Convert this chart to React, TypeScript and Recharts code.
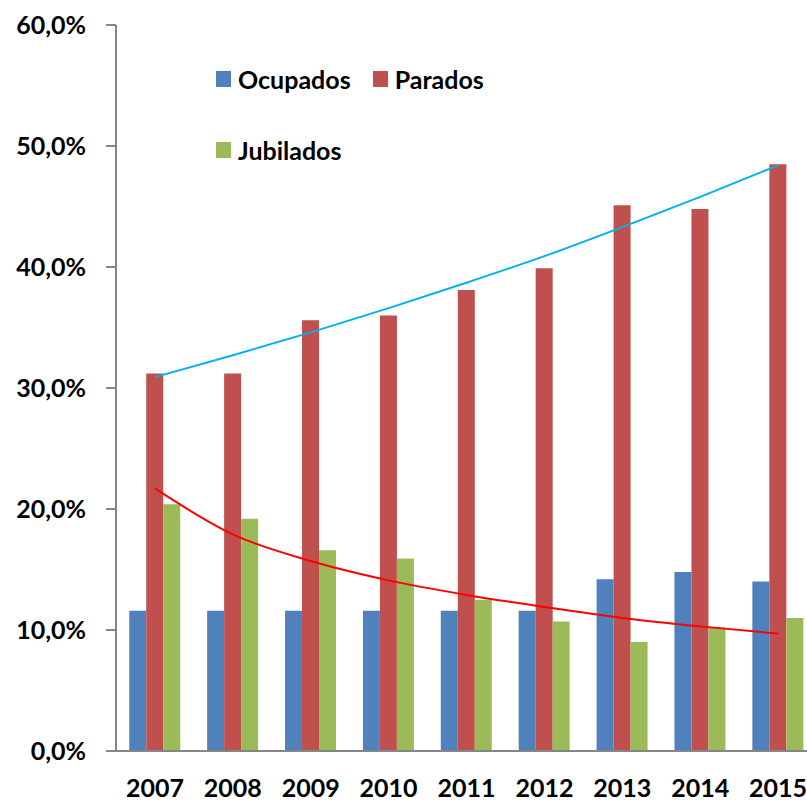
import { ComposedChart, Bar, Line, XAxis, YAxis, Legend } from 'recharts'

const years = ['2007', '2008', '2009', '2010', '2011', '2012', '2013', '2014', '2015']
const ocupados = [11.6, 11.6, 11.6, 11.6, 11.6, 11.6, 14.2, 14.8, 14.0]
const parados = [31.2, 31.2, 35.6, 36.0, 38.1, 39.9, 45.1, 44.8, 48.5]
const jubilados = [20.4, 19.2, 16.6, 15.9, 12.5, 10.7, 9.0, 10.2, 11.0]
// líneas de tendencia
const tendParados = [30.9, 32.7, 34.6, 36.6, 38.7, 40.9, 43.3, 45.8, 48.4]
const tendJubilados = [21.7, 17.9, 15.7, 14.1, 12.9, 11.9, 11.0, 10.3, 9.7]
const yTicks = [0, 10, 20, 30, 40, 50, 60]
const edgeTicks = [0, 1, 2, 3, 4, 5, 6, 7, 8, 9]

const data = years.map((year, i) => ({
	year,
	ocupados: ocupados[i],
	parados: parados[i],
	jubilados: jubilados[i],
	tendParados: tendParados[i],
	tendJubilados: tendJubilados[i],
}))

const FONT = 'Lato, "Open Sans", sans-serif'
const AXIS = '#868686'
const tickStyle = { fontSize: 25, fontWeight: 700, fill: '#000', fontFamily: FONT }

const fmt = (v: number) => v.toFixed(1).replace('.', ',') + '%'

const LegendItem = ({ color, name }: { color: string; name: string }) => (
	<div style={{ display: 'flex', alignItems: 'center', height: 30, marginRight: 22 }}>
		<span style={{ width: 15, height: 16, background: color, marginRight: 7 }} />
		<span>{name}</span>
	</div>
)

const renderLegend = () => (
	<div style={{ fontFamily: FONT, fontSize: 25, fontWeight: 700, color: '#000' }}>
		<div style={{ display: 'flex', marginBottom: 41 }}>
			<LegendItem color="#4F81BD" name="Ocupados" />
			<LegendItem color="#C0504D" name="Parados" />
		</div>
		<div style={{ display: 'flex' }}>
			<LegendItem color="#9BBB59" name="Jubilados" />
		</div>
	</div>
)

export default function App() {
	return (
		<div style={{ position: 'fixed', left: 0, top: 0, width: 807, height: 801, overflow: 'hidden', background: '#fff' }}>
			<ComposedChart
				width={820}
				height={801}
				data={data}
				margin={{ top: 25, right: 3, left: 0, bottom: 0 }}
				barCategoryGap="17%"
				barGap={0}
			>
				<XAxis
					xAxisId="edge"
					type="number"
					domain={[0, 9]}
					ticks={edgeTicks}
					tick={false}
					axisLine={false}
					tickLine={{ stroke: AXIS, strokeWidth: 2 }}
					tickSize={10}
					height={0}
					allowDataOverflow
				/>
				<XAxis
					xAxisId="cat"
					dataKey="year"
					tick={tickStyle}
					tickLine={false}
					axisLine={{ stroke: AXIS, strokeWidth: 2 }}
					tickSize={10}
					tickMargin={18}
					height={50}
					interval={0}
				/>
				<YAxis
					width={116}
					domain={[0, 60]}
					ticks={yTicks}
					tickFormatter={fmt}
					tick={tickStyle}
					axisLine={{ stroke: AXIS, strokeWidth: 2 }}
					tickLine={{ stroke: AXIS, strokeWidth: 2 }}
					tickSize={10}
					tickMargin={20}
				/>
				<Legend
					verticalAlign="middle"
					layout="horizontal"
					wrapperStyle={{ top: 64, left: 216, width: 400, height: 110 }}
					content={renderLegend}
				/>
				<Bar xAxisId="cat" dataKey="ocupados" name="Ocupados" fill="#4F81BD" isAnimationActive={false} />
				<Bar xAxisId="cat" dataKey="parados" name="Parados" fill="#C0504D" isAnimationActive={false} />
				<Bar xAxisId="cat" dataKey="jubilados" name="Jubilados" fill="#9BBB59" isAnimationActive={false} />
				<Line
					xAxisId="cat"
					dataKey="tendParados"
					type="monotone"
					stroke="#00B0F0"
					strokeWidth={2}
					dot={false}
					legendType="none"
					isAnimationActive={false}
				/>
				<Line
					xAxisId="cat"
					dataKey="tendJubilados"
					type="monotone"
					stroke="#FF0000"
					strokeWidth={2}
					dot={false}
					legendType="none"
					isAnimationActive={false}
				/>
			</ComposedChart>
		</div>
	)
}
